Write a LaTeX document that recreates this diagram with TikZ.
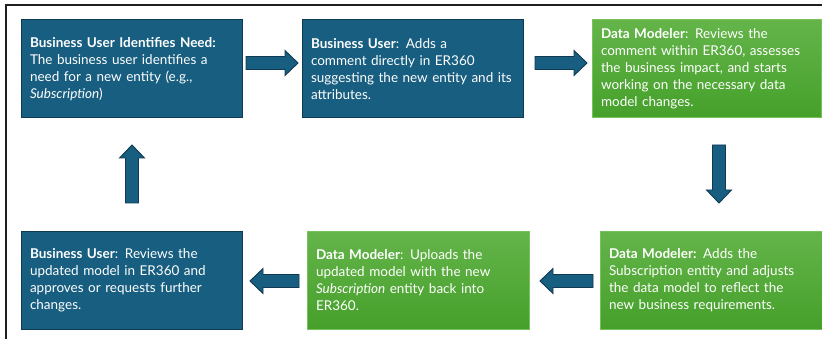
\documentclass[tikz,border=0pt]{standalone}
\usepackage{fontspec}
\setmainfont{Lato}
\usetikzlibrary{calc}
\definecolor{bluebox}{HTML}{175E80}
\definecolor{blueedge}{HTML}{0F3A52}
\definecolor{greentop}{HTML}{64B44A}
\definecolor{greenbot}{HTML}{45A02A}
\definecolor{greenedge}{HTML}{78C25E}
\tikzset{
  x=1pt, y=-1pt,
  stepbox/.style={rectangle, inner xsep=9pt, inner ysep=0pt, align=left,
    text=white, font=\fontsize{13.5}{17}\selectfont, anchor=center},
  bluestep/.style={stepbox, fill=bluebox, draw=blueedge, line width=1pt},
  greenstep/.style={stepbox, top color=greentop, bottom color=greenbot, draw=greenedge, line width=1pt},
  blockarrow/.style={fill=bluebox, draw=blueedge, line width=0.9pt, line join=miter,
    to path={let \p1=(\tikztostart), \p2=(\tikztotarget),
      \n1={atan2(\y2-\y1,\x2-\x1)}, \n2={veclen(\x2-\x1,\y2-\y1)} in
      ([shift={(\p1)},rotate=\n1]0pt,6.5pt) -- ([shift={(\p1)},rotate=\n1]{\n2-13pt},6.5pt)
      -- ([shift={(\p1)},rotate=\n1]{\n2-13pt},12.5pt) -- (\p2)
      -- ([shift={(\p1)},rotate=\n1]{\n2-13pt},-12.5pt) -- ([shift={(\p1)},rotate=\n1]{\n2-13pt},-6.5pt)
      -- ([shift={(\p1)},rotate=\n1]0pt,-6.5pt) -- cycle}},
}
\begin{document}
\begin{tikzpicture}
\useasboundingbox (0,0) rectangle (822,339);
\fill[white] (0,0) rectangle (822,339);
\coordinate (fa) at (6,339);
\coordinate (fb) at (6,5);
\coordinate (fc) at (822,5);
\draw[line width=2.2pt, black!88] (fa) -- (fb) -- (fc);

\node[bluestep, minimum width=221pt, minimum height=98pt, text width=203pt] (b1) at (131.5,69)
 {\textbf{Business User Identifies Need:}\\The business user identifies a\\need for a new entity (e.g.,\\\textit{Subscription})};
\node[bluestep, minimum width=221pt, minimum height=98pt, text width=203pt] (b2) at (412.5,69)
 {\textbf{Business User}: Adds a\\comment directly in ER360\\suggesting the new entity and its\\attributes.};
\node[greenstep, minimum width=229pt, minimum height=98pt, text width=211pt] (b3) at (706.5,69)
 {\textbf{Data Modeler}: Reviews the\\comment within ER360, assesses\\the business impact, and starts\\working on the necessary data\\model changes.};
\node[greenstep, minimum width=222pt, minimum height=97pt, text width=204pt] (b6) at (711,280.5)
 {\textbf{Data Modeler:} Adds the\\Subscription entity and adjusts\\the data model to reflect the\\new business requirements.};
\node[greenstep, minimum width=222pt, minimum height=97pt, text width=204pt] (b5) at (418,280.5)
 {\textbf{Data Modeler}: Uploads the\\updated model with the new\\\textit{Subscription} entity back into\\ER360.};
\node[bluestep, minimum width=221pt, minimum height=97pt, text width=203pt] (b4) at (131.5,280.5)
 {\textbf{Business User}: Reviews the\\updated model in ER360 and\\approves or requests further\\changes.};

\coordinate (t12) at (246,63);  \coordinate (h12) at (298,63);
\coordinate (t23) at (535,63);  \coordinate (h23) at (587,63);
\coordinate (t36) at (719,145); \coordinate (h36) at (719,203);
\coordinate (t65) at (593,281); \coordinate (h65) at (540,281);
\coordinate (t54) at (299,281); \coordinate (h54) at (250,281);
\coordinate (t41) at (132,203); \coordinate (h41) at (132,145);
\draw[blockarrow] (t12) to (h12);
\draw[blockarrow] (t23) to (h23);
\draw[blockarrow] (t36) to (h36);
\draw[blockarrow] (t65) to (h65);
\draw[blockarrow] (t54) to (h54);
\draw[blockarrow] (t41) to (h41);
\end{tikzpicture}
\end{document}
